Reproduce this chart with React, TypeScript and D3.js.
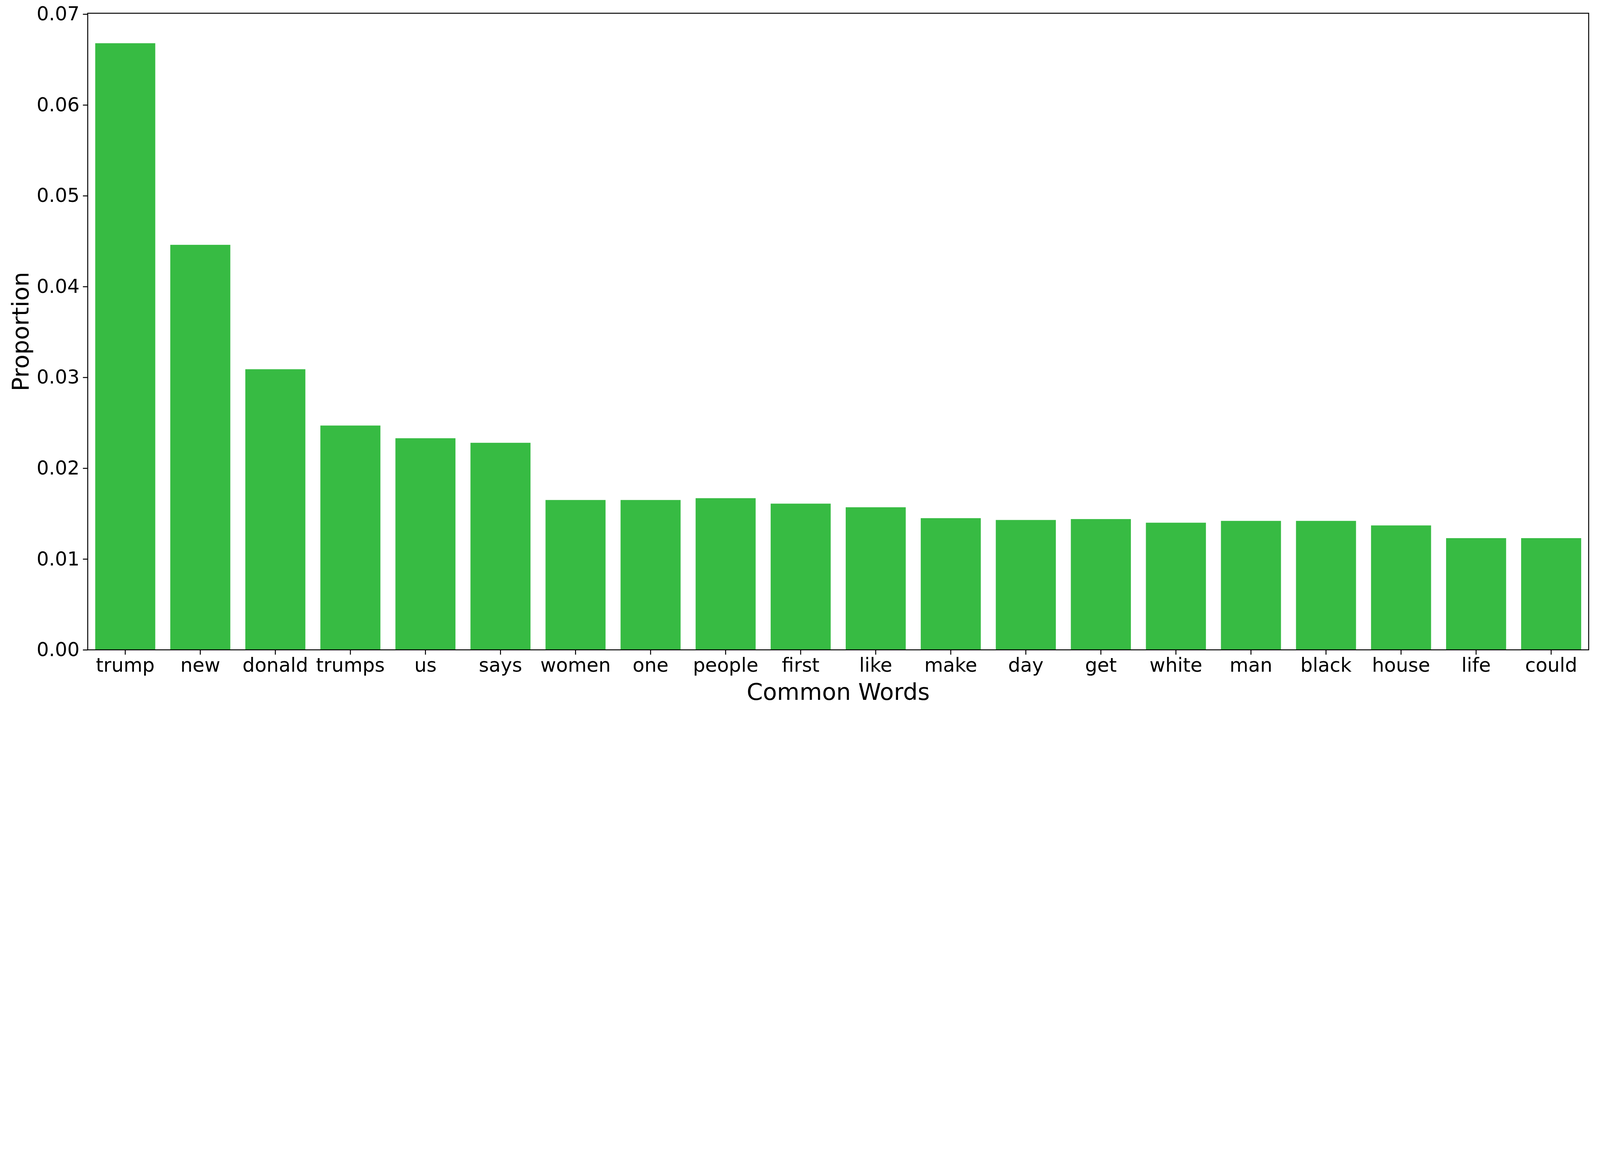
import React, { useRef, useEffect } from 'react';
import * as d3 from 'd3';

const words = ['trump', 'new', 'donald', 'trumps', 'us', 'says', 'women', 'one', 'people', 'first',
    'like', 'make', 'day', 'get', 'white', 'man', 'black', 'house', 'life', 'could'];
const proportions = [0.0668, 0.0446, 0.0309, 0.0247, 0.0233, 0.0228, 0.0165, 0.0165, 0.0167, 0.0161,
    0.0157, 0.0145, 0.0143, 0.0144, 0.0140, 0.0142, 0.0142, 0.0137, 0.0123, 0.0123];
const yTicks = [0, 0.01, 0.02, 0.03, 0.04, 0.05, 0.06, 0.07];

const App = () => {
    const chartRef = useRef(null);

    useEffect(() => {
        const width = 6639;
        const height = 2960;
        const margin = { left: 364, right: 47, top: 55, bottom: 263 };
        const fontSize = 80;

        const svg = d3.select(chartRef.current)
            .attr('viewBox', `0 0 ${width} ${height}`)
            .attr('preserveAspectRatio', 'xMinYMin meet')
            .style('font-family', 'DejaVu Sans');
        svg.selectAll('*').remove();

        const x = d3.scaleBand()
            .domain(words)
            .range([margin.left, width - margin.right])
            .paddingInner(0.2)
            .paddingOuter(0.1);

        const y = d3.scaleLinear()
            .domain([0, 0.0701])
            .range([height - margin.bottom, margin.top]);

        svg.append('g')
            .selectAll('rect')
            .data(words)
            .enter().append('rect')
            .attr('x', d => x(d))
            .attr('width', x.bandwidth())
            .attr('y', (d, i) => y(proportions[i]))
            .attr('height', (d, i) => y(0) - y(proportions[i]))
            .attr('fill', '#37bb43');

        const xAxis = svg.append('g')
            .attr('transform', `translate(0,${height - margin.bottom})`)
            .call(d3.axisBottom(x).tickSize(20).tickPadding(14));
        const yAxis = svg.append('g')
            .attr('transform', `translate(${margin.left},0)`)
            .call(d3.axisLeft(y).tickValues(yTicks).tickFormat(d3.format('.2f')).tickSize(20).tickPadding(14));

        [xAxis, yAxis].forEach(a => {
            a.select('.domain').remove();
            a.selectAll('line').attr('stroke', '#000').attr('stroke-width', 4);
            a.selectAll('text').attr('font-size', fontSize).attr('font-family', 'DejaVu Sans').attr('fill', '#000');
        });

        svg.append('rect')
            .attr('x', margin.left)
            .attr('y', margin.top)
            .attr('width', width - margin.left - margin.right)
            .attr('height', height - margin.top - margin.bottom)
            .attr('fill', 'none')
            .attr('stroke', '#000')
            .attr('stroke-width', 4);

        svg.append('text')
            .attr('x', (margin.left + width - margin.right) / 2)
            .attr('y', 2905)
            .attr('text-anchor', 'middle')
            .attr('font-size', 96)
            .text('Common Words');

        svg.append('text')
            .attr('transform', `translate(118,${(margin.top + height - margin.bottom) / 2}) rotate(-90)`)
            .attr('text-anchor', 'middle')
            .attr('font-size', 96)
            .text('Proportion');
    }, []);

    return (
        <svg ref={chartRef} style={{ position: 'absolute', left: 0, top: 0, width: '100vw', height: '100vh', background: '#fff' }}></svg>
    );
};

export default App;
